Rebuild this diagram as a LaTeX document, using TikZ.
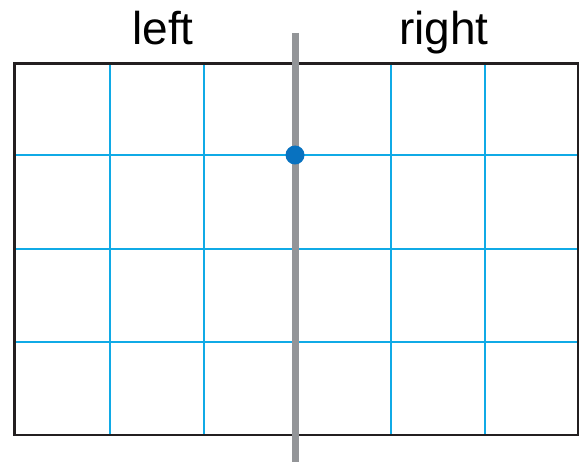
\documentclass[tikz,border=0pt]{standalone}
\usepackage{fontspec}
\setmainfont{Liberation Sans}
\definecolor{gridcyan}{HTML}{10AAE6}
\definecolor{dotblue}{HTML}{0872C0}
\definecolor{axisgray}{HTML}{939598}
\definecolor{frameblack}{HTML}{231F20}
\begin{document}
\begin{tikzpicture}[x=1pt,y=-1pt,
  gridline/.style={gridcyan,line width=1.2pt},
  frameline/.style={frameblack,line width=2.5pt},
  divider/.style={axisgray,line width=7pt},
  label/.style={font=\fontsize{46}{50}\selectfont,anchor=base,inner sep=0pt}]
\useasboundingbox (0,0) rectangle (585,462);
% grid
\foreach \x in {110,204,391,485} \draw[gridline] (\x,63) -- (\x,435);
\foreach \y in {155,249,342} \draw[gridline] (14.5,\y) -- (578,\y);
% frame
\draw[frameline] (14.5,63.5) rectangle (578,435);
% divider
\coordinate (top) at (295,33);
\coordinate (bot) at (295,462);
\draw[divider] (top) -- (bot);
% dot
\node[circle,fill=dotblue,inner sep=0pt,minimum size=19pt] (dot) at (295,155) {};
% labels
\node[label] (left) at (163,45) {left};
\node[label] (right) at (444,45) {right};
\end{tikzpicture}
\end{document}
